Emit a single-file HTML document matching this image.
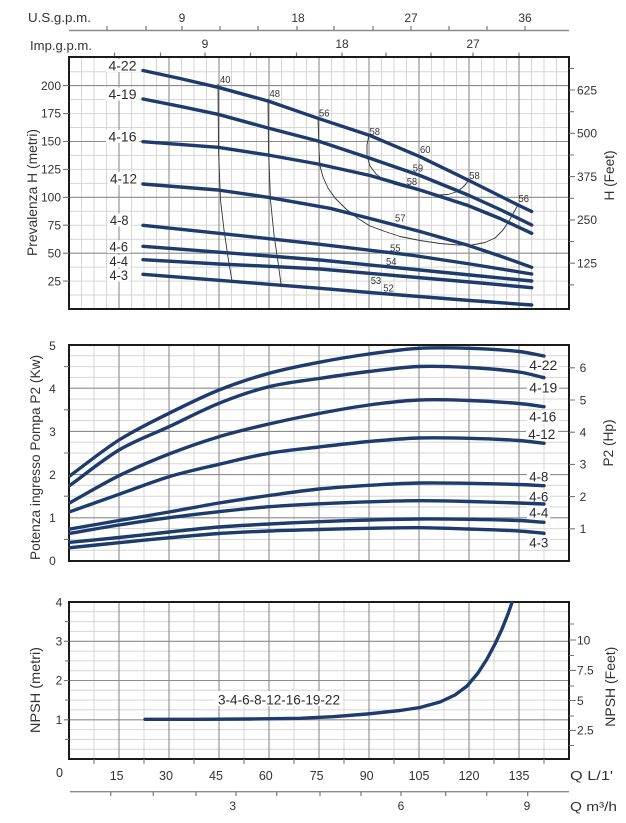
<!DOCTYPE html>
<html><head><meta charset="utf-8"><style>
html,body{margin:0;padding:0;background:#fff;}
svg{display:block;font-family:"Liberation Sans",sans-serif;}
</style></head><body>
<svg width="626" height="823" viewBox="0 0 626 823" xmlns="http://www.w3.org/2000/svg">
<rect width="626" height="823" fill="#fff"/>

<!-- ===== TOP AXES ===== -->
<g fill="#333" font-size="12">
<text x="28" y="22" font-size="13" textLength="63" lengthAdjust="spacingAndGlyphs">U.S.g.p.m.</text>
<text x="30" y="50" font-size="13" textLength="62" lengthAdjust="spacingAndGlyphs">Imp.g.p.m.</text>
<g text-anchor="middle">
<text x="182" y="22">9</text><text x="298" y="22">18</text><text x="411" y="22">27</text><text x="525" y="22">36</text>
<text x="205" y="48">9</text><text x="342" y="48">18</text><text x="473" y="48">27</text>
</g>
</g>
<path d="M69 30.5H569" stroke="#8a8a8a" stroke-width="1.4" fill="none"/>
<path d="M107 26V30M146 26V30M182 26V30M220 26V30M258 26V30M297 26V30M334 26V30M373 26V30M411 26V30M449 26V30M487 26V30M525 26V30" stroke="#777" stroke-width="1.2"/>
<path d="M114.5 52.5V57M160.5 52.5V57M205 52.5V57M250.5 52.5V57M296.5 52.5V57M342 52.5V57M386 52.5V57M431 52.5V57M473 52.5V57M519 52.5V57" stroke="#777" stroke-width="1.2"/>

<!-- ===== CHART 1 ===== -->
<g stroke="#d6d6d6" stroke-width="1" fill="none">
<path d="M81.5 57V309M94 57V309M106.5 57V309M131.5 57V309M144 57V309M156.5 57V309M181.5 57V309M194 57V309M206.5 57V309M231.5 57V309M244 57V309M256.5 57V309M281.5 57V309M294 57V309M306.5 57V309M331.5 57V309M344 57V309M356.5 57V309M381.5 57V309M394 57V309M406.5 57V309M431.5 57V309M444 57V309M456.5 57V309M481.5 57V309M494 57V309M506.5 57V309M531.5 57V309M544 57V309M556.5 57V309"/>
<path d="M69 295H569M69 281.1H569M69 267.1H569M69 239.2H569M69 225.2H569M69 211.3H569M69 183.4H569M69 169.4H569M69 155.4H569M69 127.5H569M69 113.6H569M69 99.6H569M69 71.7H569"/>
</g>
<g stroke="#8c8c8c" stroke-width="1.1" fill="none">
<path d="M119 57V309M169 57V309M219 57V309M269 57V309M319 57V309M369 57V309M419 57V309M469 57V309M519 57V309"/>
<path d="M69 253.2H569M69 197.3H569M69 141.5H569M69 85.6H569"/>
</g>
<rect x="69" y="57" width="500" height="252" fill="none" stroke="#1a1a1a" stroke-width="2"/>
<path d="M63 281.1H69M63 253.2H69M63 225.2H69M63 197.3H69M63 169.4H69M63 141.5H69M63 113.6H69M63 85.6H69" stroke="#777" stroke-width="1.1"/>
<g fill="#333" font-size="12" text-anchor="end">
<text x="61" y="285.5">25</text><text x="61" y="257.5">50</text><text x="61" y="229.5">75</text><text x="61" y="201.5">100</text>
<text x="61" y="173.5">125</text><text x="61" y="145.5">150</text><text x="61" y="117.5">175</text><text x="61" y="89.8">200</text>
</g>
<path d="M569 90H575M569 133.3H575M569 176.6H575M569 219.9H575M569 263.2H575M569 68.4H574M569 111.7H574M569 155H574M569 198.3H574M569 241.6H574M569 284.9H574" stroke="#777" stroke-width="1.1"/>
<g fill="#333" font-size="12">
<text x="577" y="94.3">625</text><text x="577" y="137.6">500</text><text x="577" y="180.9">375</text><text x="577" y="224.2">250</text><text x="577" y="267.5">125</text>
</g>
<text transform="translate(37,192.5) rotate(-90)" text-anchor="middle" font-size="13.5" fill="#333" textLength="127" lengthAdjust="spacingAndGlyphs">Prevalenza H (metri)</text>
<text transform="translate(614,175.5) rotate(-90)" text-anchor="middle" font-size="13.5" fill="#333" textLength="50" lengthAdjust="spacingAndGlyphs">H (Feet)</text>

<g stroke="#333" stroke-width="0.9" fill="none" stroke-linejoin="round">
<polyline points="218,84 218.5,150 220.5,200 224,230 228,257 232,281"/>
<polyline points="268,99 268.5,150 270.5,200 274,235 278,262 281,284"/>
<polyline points="318,117 319,150 320,166 323,177 328,188 335,198 346,209 358,218.5 370,226 385,231.5 400,236.5 420,240.5 440,243.5 458,245 472,245 485,242.5 495,238 503,230 509,221 514,212 518.5,204"/>
<polyline points="369,135 367,145 367,156 370,166 376,174 384,180 395,184.5 410,188.5 425,192.5 438,195 448,194.5 456,192 462,188 466,184 469,179"/>
</g>

<g fill="#fff">
<rect x="106" y="59" width="33" height="13"/><rect x="106" y="87.5" width="33" height="13"/><rect x="106" y="130" width="33" height="13"/>
<rect x="107.5" y="172" width="33" height="13"/><rect x="107.5" y="213.5" width="23" height="13"/><rect x="107" y="240.5" width="23" height="12.5"/>
<rect x="107" y="255" width="23" height="12.5"/><rect x="107" y="269" width="23" height="12.5"/>
</g>

<g stroke="#1d3b6c" stroke-width="3.4" fill="none" stroke-linejoin="round" stroke-linecap="round">
<polyline points="143,70.5 180,78.5 218,87.3 268,101 318,118.3 370,135.5 420,156.7 468,180 518,205 531.7,211.5"/>
<polyline points="143,99 180,106.3 218,114.3 268,128 318,141 370,158.3 420,175.5 468,195 500,209.5 531.7,225"/>
<polyline points="143,141.7 218,147.3 268,155 318,164 370,175.5 420,190 468,205.5 500,218.5 531.7,233.3"/>
<polyline points="143,184 218,190 268,197.3 330,208.3 370,218.5 420,231.5 468,245.3 500,256 531.7,267.3"/>
<polyline points="143,225.3 219,233.3 269,238.7 320,244.3 410,255 470,264 531.7,274"/>
<polyline points="143,246.3 219,252.2 269,256 320,260 400,268 470,275 531.7,281"/>
<polyline points="143,259.7 219,264 269,266.3 320,269 400,276 470,282 531.7,287.7"/>
<polyline points="143,274.3 219,280.3 269,284.3 320,288.3 400,295 470,300.5 531.7,305"/>
</g>
<g fill="#2a2a2a" font-size="14">
<text x="108.5" y="70.5" textLength="28" lengthAdjust="spacingAndGlyphs">4-22</text>
<text x="108.5" y="99" textLength="28" lengthAdjust="spacingAndGlyphs">4-19</text>
<text x="108.5" y="141.5" textLength="28" lengthAdjust="spacingAndGlyphs">4-16</text>
<text x="110" y="183.3" textLength="27" lengthAdjust="spacingAndGlyphs">4-12</text>
<text x="110" y="225" textLength="18.5" lengthAdjust="spacingAndGlyphs">4-8</text>
<text x="109.5" y="251.7" textLength="18.5" lengthAdjust="spacingAndGlyphs">4-6</text>
<text x="109.5" y="266" textLength="18.5" lengthAdjust="spacingAndGlyphs">4-4</text>
<text x="109.5" y="280" textLength="18.5" lengthAdjust="spacingAndGlyphs">4-3</text>
</g>
<g fill="#333" font-size="10.5">
<text x="220" y="83" textLength="10.5" lengthAdjust="spacingAndGlyphs">40</text>
<text x="269.5" y="97" textLength="10.5" lengthAdjust="spacingAndGlyphs">48</text>
<text x="319" y="116.5" textLength="10.5" lengthAdjust="spacingAndGlyphs">56</text>
<text x="369.5" y="135" textLength="10.5" lengthAdjust="spacingAndGlyphs">58</text>
<text x="420" y="153" textLength="10.5" lengthAdjust="spacingAndGlyphs">60</text>
<text x="412.7" y="171.5" textLength="10.5" lengthAdjust="spacingAndGlyphs">59</text>
<text x="406.7" y="185" textLength="10.5" lengthAdjust="spacingAndGlyphs">58</text>
<text x="469.3" y="179" textLength="10.5" lengthAdjust="spacingAndGlyphs">58</text>
<text x="518.5" y="202" textLength="10.5" lengthAdjust="spacingAndGlyphs">56</text>
<text x="395" y="221.5" textLength="10.5" lengthAdjust="spacingAndGlyphs">57</text>
<text x="390" y="251.5" textLength="10.5" lengthAdjust="spacingAndGlyphs">55</text>
<text x="386" y="265" textLength="10.5" lengthAdjust="spacingAndGlyphs">54</text>
<text x="370.7" y="284" textLength="10.5" lengthAdjust="spacingAndGlyphs">53</text>
<text x="383.3" y="291.5" textLength="10.5" lengthAdjust="spacingAndGlyphs">52</text>
</g>

<!-- ===== CHART 2 ===== -->
<g stroke="#d6d6d6" stroke-width="1" fill="none">
<path d="M94 345V561M144 345V561M194 345V561M244 345V561M294 345V561M344 345V561M394 345V561M444 345V561M494 345V561M544 345V561"/>
<path d="M69 550.2H569M69 539.4H569M69 528.6H569M69 507H569M69 496.2H569M69 485.4H569M69 463.8H569M69 453H569M69 442.2H569M69 420.6H569M69 409.8H569M69 399H569M69 377.4H569M69 366.6H569M69 355.8H569"/>
</g>
<g stroke="#8c8c8c" stroke-width="1.1" fill="none">
<path d="M119 345V561M169 345V561M219 345V561M269 345V561M319 345V561M369 345V561M419 345V561M469 345V561M519 345V561"/>
<path d="M69 517.8H569M69 474.6H569M69 431.4H569M69 388.2H569"/>
</g>
<rect x="69" y="345" width="500" height="216" fill="none" stroke="#1a1a1a" stroke-width="2"/>
<path d="M64 539.4H69M64 496.2H69M64 453H69M64 409.8H69M64 366.6H69" stroke="#777" stroke-width="1.1"/>
<g fill="#333" font-size="12" text-anchor="middle">
<text x="52.5" y="565">0</text><text x="52.5" y="522">1</text><text x="52.5" y="479">2</text><text x="52.5" y="436">3</text><text x="52.5" y="393">4</text><text x="52.5" y="350">5</text>
</g>
<path d="M569 367.8H575M569 400H575M569 432.2H575M569 464.4H575M569 496.6H575M569 528.8H575" stroke="#777" stroke-width="1.1"/>
<g fill="#333" font-size="12" text-anchor="middle">
<text x="583" y="372">6</text><text x="583" y="404.3">5</text><text x="583" y="436.5">4</text><text x="583" y="468.7">3</text><text x="583" y="500.9">2</text><text x="583" y="533">1</text>
</g>
<text transform="translate(40,457.5) rotate(-90)" text-anchor="middle" font-size="13.5" fill="#333" textLength="205" lengthAdjust="spacingAndGlyphs">Potenza ingresso Pompa P2 (Kw)</text>
<text transform="translate(613,443) rotate(-90)" text-anchor="middle" font-size="13.5" fill="#333" textLength="47" lengthAdjust="spacingAndGlyphs">P2 (Hp)</text>

<g fill="#fff">
<rect x="527" y="359" width="32" height="13"/><rect x="527" y="381.5" width="32" height="13"/><rect x="527" y="410.5" width="32" height="13"/>
<rect x="526" y="427.5" width="32" height="13"/><rect x="527" y="470.5" width="23" height="13"/><rect x="527" y="490.5" width="23" height="13"/>
<rect x="527" y="506.5" width="23" height="12.5"/><rect x="527" y="536" width="23" height="13"/>
</g>
<g stroke="#1d3b6c" stroke-width="3.4" fill="none" stroke-linejoin="round" stroke-linecap="round">
<path d="M70,475.7 C86.3,463.8 102.7,450.4 119,440 C135.7,429.6 152.3,421.6 169,413.3 C185.7,405 202.3,396.7 219,390 C235.7,383.3 252.3,377.9 269,373.3 C285.7,368.7 302.3,365.5 319,362.3 C335.7,359.1 352.3,356.3 369,354 C385.7,351.7 402.3,349.25 419,348.3 C435.7,347.35 452.3,347.8 469,348.3 C485.7,348.8 502.3,349.8 519,351.5 C527.3,352.4 535.7,354.5 544,356"/>
<path d="M70,485.3 C86.3,473.5 102.7,459.8 119,450 C135.7,440.2 152.3,434.5 169,426.7 C185.7,418.9 202.3,410 219,403.3 C235.7,396.6 252.3,390.8 269,386.7 C285.7,382.6 302.3,381 319,378.5 C335.7,376 352.3,373.5 369,371.5 C385.7,369.5 402.3,367.2 419,366.5 C435.7,365.8 452.3,366.6 469,367.5 C485.7,368.4 502.3,369.7 519,372 C527.3,373.1 535.7,375.8 544,377.7"/>
<path d="M70,502.7 C86.3,493.7 102.7,483.8 119,475.7 C135.7,467.6 152.3,460.5 169,454 C185.7,447.5 202.3,441.7 219,436.7 C235.7,431.7 252.3,427.9 269,424 C285.7,420.1 302.3,416.7 319,413.5 C335.7,410.3 352.3,407.25 369,405 C385.7,402.75 402.3,400.75 419,400 C435.7,399.25 452.3,399.9 469,400.5 C485.7,401.1 502.3,402.1 519,403.5 C527.3,404.2 535.7,405.6 544,406.7"/>
<path d="M70,511.7 C86.3,505.9 102.7,500.1 119,494.3 C135.7,488.5 152.3,481.7 169,476.7 C185.7,471.7 202.3,468.2 219,464.3 C235.7,460.4 252.3,456.2 269,453.3 C285.7,450.4 302.3,449 319,447 C335.7,445 352.3,443 369,441.5 C385.7,440 402.3,438.5 419,438 C435.7,437.5 452.3,437.9 469,438.3 C485.7,438.7 502.3,439.4 519,440.5 C527.3,441.1 535.7,442.4 544,443.3"/>
<path d="M70,529 C86.3,526.2 102.7,523.3 119,520.5 C135.7,517.7 152.3,514.9 169,512 C185.7,509.1 202.3,505.75 219,503 C235.7,500.25 252.3,497.8 269,495.5 C285.7,493.2 302.3,490.7 319,489 C335.7,487.3 352.3,486.3 369,485.3 C385.7,484.3 402.3,483.3 419,483 C435.7,482.7 452.3,483.05 469,483.3 C485.7,483.55 502.3,483.97 519,484.5 C527.3,484.77 535.7,485.3 544,485.7"/>
<path d="M70,533.3 C86.3,530.5 102.7,527.6 119,525 C135.7,522.4 152.3,519.9 169,517.7 C185.7,515.5 202.3,513.5 219,511.7 C235.7,509.9 252.3,508 269,506.7 C285.7,505.4 302.3,504.6 319,503.8 C335.7,503 352.3,502.3 369,501.8 C385.7,501.3 402.3,500.75 419,500.7 C435.7,500.65 452.3,501.1 469,501.5 C485.7,501.9 502.3,502.4 519,503 C527.3,503.3 535.7,503.7 544,504"/>
<path d="M70,542.3 C86.3,540.7 102.7,539.2 119,537.5 C135.7,535.8 152.3,533.75 169,532 C185.7,530.25 202.3,528.3 219,527 C235.7,525.7 252.3,524.9 269,524 C285.7,523.1 302.3,522.4 319,521.7 C335.7,521 352.3,520.45 369,520 C385.7,519.55 402.3,519.1 419,519 C435.7,518.9 452.3,519.05 469,519.3 C485.7,519.55 502.3,519.8 519,520.5 C527.3,520.8 535.7,521.7 544,522.3"/>
<path d="M70,547.7 C86.3,546 102.7,544.35 119,542.7 C135.7,541.05 152.3,539.3 169,537.8 C185.7,536.3 202.3,534.6 219,533.5 C235.7,532.4 252.3,531.7 269,531 C285.7,530.3 302.3,529.95 319,529.5 C335.7,529.05 352.3,528.6 369,528.3 C385.7,528 402.3,527.58 419,527.7 C435.7,527.82 452.3,528.45 469,529 C485.7,529.55 502.3,530.04 519,531 C527.3,531.48 535.7,532.53 544,533.3"/>
</g>
<g fill="#2a2a2a" font-size="14">
<text x="529.3" y="370" textLength="28" lengthAdjust="spacingAndGlyphs">4-22</text>
<text x="529.3" y="392.7" textLength="28" lengthAdjust="spacingAndGlyphs">4-19</text>
<text x="529.3" y="421.7" textLength="27" lengthAdjust="spacingAndGlyphs">4-16</text>
<text x="528.3" y="439" textLength="27" lengthAdjust="spacingAndGlyphs">4-12</text>
<text x="529.3" y="481.7" textLength="19" lengthAdjust="spacingAndGlyphs">4-8</text>
<text x="529.3" y="501.7" textLength="19" lengthAdjust="spacingAndGlyphs">4-6</text>
<text x="529.3" y="517.3" textLength="19" lengthAdjust="spacingAndGlyphs">4-4</text>
<text x="529.3" y="547.3" textLength="19" lengthAdjust="spacingAndGlyphs">4-3</text>
</g>

<!-- ===== CHART 3 ===== -->
<g stroke="#d6d6d6" stroke-width="1" fill="none">
<path d="M94 602V759M144 602V759M194 602V759M244 602V759M294 602V759M344 602V759M394 602V759M444 602V759M494 602V759M544 602V759"/>
<path d="M69 749.2H569M69 739.4H569M69 729.6H569M69 709.9H569M69 700.1H569M69 690.3H569M69 670.7H569M69 660.9H569M69 651.1H569M69 631.4H569M69 621.6H569M69 611.8H569"/>
</g>
<g stroke="#8c8c8c" stroke-width="1.1" fill="none">
<path d="M119 602V759M169 602V759M219 602V759M269 602V759M319 602V759M369 602V759M419 602V759M469 602V759M519 602V759"/>
<path d="M69 719.8H569M69 680.5H569M69 641.3H569"/>
</g>
<rect x="69" y="602" width="500" height="157" fill="none" stroke="#1a1a1a" stroke-width="2"/>
<path d="M65 739.4H69M65 700.1H69M65 660.9H69M65 621.6H69M64 719.8H69M64 680.5H69M64 641.3H69" stroke="#777" stroke-width="1.1"/>
<g fill="#333" font-size="12" text-anchor="middle">
<text x="59" y="724">1</text><text x="59" y="684.7">2</text><text x="59" y="645.5">3</text><text x="59" y="606.5">4</text>
</g>
<path d="M569 640H576M569 670.4H576M569 700.5H576M569 730.4H576M569 624H574M569 655.5H574M569 686H574M569 716H574M569 745.5H574" stroke="#777" stroke-width="1.1"/>
<g fill="#333" font-size="12">
<text x="577" y="644.3">10</text><text x="577" y="674.7">7.5</text><text x="577" y="704.8">5</text><text x="577" y="734.7">2.5</text>
</g>
<text transform="translate(40,690) rotate(-90)" text-anchor="middle" font-size="14" fill="#333" textLength="86" lengthAdjust="spacingAndGlyphs">NPSH (metri)</text>
<text transform="translate(615,686.7) rotate(-90)" text-anchor="middle" font-size="13.5" fill="#333" textLength="80" lengthAdjust="spacingAndGlyphs">NPSH (Feet)</text>

<rect x="215" y="691" width="128" height="15" fill="#fff"/>
<polyline points="145,719.3 200,719.3 250,719 300,718.3 333,716.7 367,714 400,710.5 420,707.5 440,702 455,695 467,686 478,673 487,659 495,644 502,629 508,614 512,602.5" stroke="#1d3b6c" stroke-width="3.4" fill="none" stroke-linejoin="round" stroke-linecap="round"/>
<text x="218" y="704.5" font-size="13.5" fill="#2a2a2a" textLength="122" lengthAdjust="spacingAndGlyphs">3-4-6-8-12-16-19-22</text>

<path d="M94 759V764M144 759V764M194 759V764M244 759V764M294 759V764M344 759V764M394 759V764M444 759V764M494 759V764M544 759V764" stroke="#777" stroke-width="1.1"/>
<g fill="#333" font-size="12.5" text-anchor="middle">
<text x="59.5" y="777">0</text>
<text x="116.7" y="780">15</text><text x="166" y="780">30</text><text x="216" y="780">45</text><text x="265.8" y="780">60</text>
<text x="316.7" y="780">75</text><text x="366.7" y="780">90</text><text x="419" y="780">105</text><text x="469" y="780">120</text><text x="519" y="780">135</text>
</g>
<text x="570" y="780" font-size="13" fill="#333" textLength="43" lengthAdjust="spacingAndGlyphs">Q L/1'</text>

<path d="M70 791.7H569" stroke="#8a8a8a" stroke-width="1.4"/>
<path d="M110.7 791.7V796M153.3 791.7V796M196 791.7V796M236 791.7V796M276.7 791.7V796M320 791.7V796M361 791.7V796M401 791.7V796M445.7 791.7V796M486.7 791.7V796M527.7 791.7V796" stroke="#777" stroke-width="1.2"/>
<g fill="#333" font-size="12" text-anchor="middle">
<text x="232.7" y="810">3</text><text x="401" y="810">6</text><text x="527" y="810">9</text>
</g>
<text x="570" y="811" font-size="13" fill="#333" textLength="47" lengthAdjust="spacingAndGlyphs">Q m³/h</text>
</svg>
</body></html>
